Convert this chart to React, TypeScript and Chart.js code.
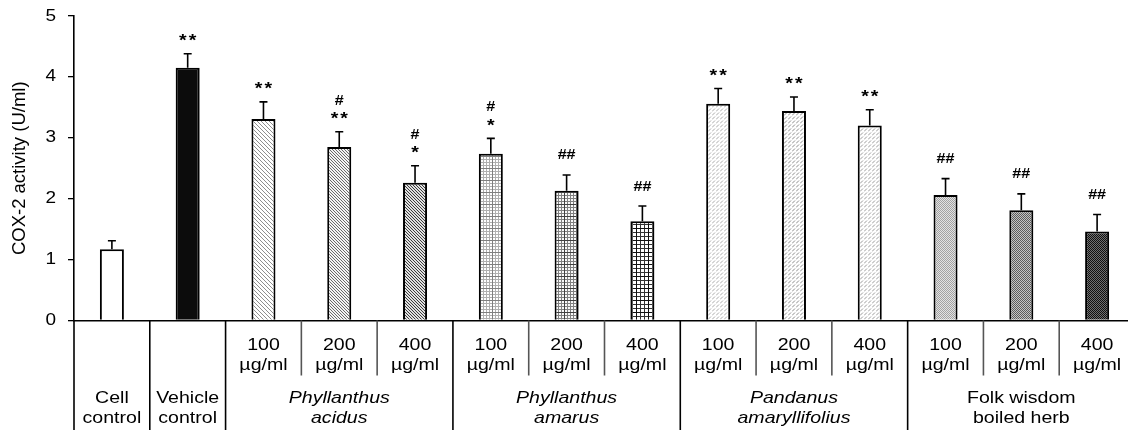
import React, { useEffect, useRef } from "react";
import { Chart, registerables } from "chart.js";

Chart.register(...registerables);

const categories = [
  "Cell control",
  "Vehicle control",
  "PA 100",
  "PA 200",
  "PA 400",
  "PAm 100",
  "PAm 200",
  "PAm 400",
  "Pan 100",
  "Pan 200",
  "Pan 400",
  "Folk 100",
  "Folk 200",
  "Folk 400",
];
const means = [1.17, 4.15, 3.31, 2.85, 2.26, 2.74, 2.13, 1.63, 3.56, 3.44, 3.2, 2.06, 1.81, 1.46];
const errors = [0.14, 0.23, 0.28, 0.25, 0.28, 0.25, 0.26, 0.25, 0.25, 0.23, 0.26, 0.27, 0.27, 0.28];
const marks: string[][] = [
  [],
  ["**"],
  ["**"],
  ["#", "**"],
  ["#", "*"],
  ["#", "*"],
  ["##"],
  ["##"],
  ["**"],
  ["**"],
  ["**"],
  ["##"],
  ["##"],
  ["##"],
];
const doseLabels = ["", "", "100", "200", "400", "100", "200", "400", "100", "200", "400", "100", "200", "400"];
const doseUnit = "µg/ml";
const groupNames: string[][] = [
  ["Cell", "control"],
  ["Vehicle", "control"],
  ["Phyllanthus", "acidus"],
  ["Phyllanthus", "amarus"],
  ["Pandanus", "amaryllifolius"],
  ["Folk wisdom", "boiled herb"],
];
const groupStart = [0, 1, 2, 5, 8, 11];
const groupEnd = [0, 1, 4, 7, 10, 13];
const groupItalic = [false, false, true, true, true, false];
const yTicks = [0, 1, 2, 3, 4, 5];
const yTitle = "COX-2 activity (U/ml)";

const FAMILY = "'Liberation Sans', Arial, Helvetica, sans-serif";

function tile(w: number, h: number, draw: (g: CanvasRenderingContext2D) => void): CanvasPattern {
  const c = document.createElement("canvas");
  c.width = w;
  c.height = h;
  const g = c.getContext("2d")!;
  draw(g);
  return g.createPattern(c, "repeat")!;
}

function diag(bg: string, fg: string, size: number, lw: number) {
  return tile(size, size, (g) => {
    g.fillStyle = bg;
    g.fillRect(0, 0, size, size);
    g.strokeStyle = fg;
    g.lineWidth = lw;
    g.beginPath();
    g.moveTo(-1, -1);
    g.lineTo(size + 1, size + 1);
    g.moveTo(-1, size - 1);
    g.lineTo(1, size + 1);
    g.moveTo(size - 1, -1);
    g.lineTo(size + 1, 1);
    g.stroke();
  });
}

function grid(bg: string, fine: string, major: string, step: number, n: number) {
  const s = step * n;
  return tile(s, s, (g) => {
    g.fillStyle = bg;
    g.fillRect(0, 0, s, s);
    g.fillStyle = fine;
    for (let k = 0; k < n; k++) {
      g.fillRect(k * step, 0, 1, s);
      g.fillRect(0, k * step, s, 1);
    }
    g.fillStyle = major;
    g.fillRect(0, 0, 1, s);
    g.fillRect(0, 0, s, 1);
  });
}

function wavy(bg: string, fg: string) {
  return tile(4, 4, (g) => {
    g.fillStyle = bg;
    g.fillRect(0, 0, 4, 4);
    g.strokeStyle = fg;
    g.lineWidth = 0.9;
    g.beginPath();
    g.moveTo(0, 3.5);
    g.lineTo(3, 0.5);
    g.stroke();
  });
}

function checker(a: string, b: string) {
  return tile(2, 2, (g) => {
    g.fillStyle = a;
    g.fillRect(0, 0, 2, 2);
    g.fillStyle = b;
    g.fillRect(0, 0, 1, 1);
    g.fillRect(1, 1, 1, 1);
  });
}

function stretchText(ctx: CanvasRenderingContext2D, text: string, x: number, y: number, font: string, sx = 1.15) {
  ctx.save();
  ctx.font = font;
  ctx.textAlign = "center";
  ctx.textBaseline = "alphabetic";
  ctx.translate(x, y);
  ctx.scale(sx, 1);
  ctx.fillText(text, 0, 0);
  ctx.restore();
}

function centeredMark(ctx: CanvasRenderingContext2D, text: string, x: number, cy: number, font: string) {
  ctx.save();
  ctx.font = font;
  ctx.textAlign = "center";
  ctx.textBaseline = "alphabetic";
  const m = ctx.measureText(text);
  const y = cy + (m.actualBoundingBoxAscent - m.actualBoundingBoxDescent) / 2;
  ctx.translate(x, y);
  ctx.scale(1.15, 1);
  ctx.fillText(text, 0, 0);
  ctx.restore();
}

const errorBarPlugin = {
  id: "errorBars",
  afterDatasetsDraw(chart: any) {
    const ctx: CanvasRenderingContext2D = chart.ctx;
    const meta = chart.getDatasetMeta(0);
    const y = chart.scales.y;
    ctx.save();
    ctx.strokeStyle = "#000";
    ctx.lineWidth = 1.6;
    meta.data.forEach((el: any, i: number) => {
      const top = y.getPixelForValue(means[i] + errors[i]);
      ctx.beginPath();
      ctx.moveTo(el.x, el.y);
      ctx.lineTo(el.x, top);
      ctx.moveTo(el.x - 4, top);
      ctx.lineTo(el.x + 4, top);
      ctx.stroke();
      const lines = marks[i];
      const n = lines.length;
      lines.forEach((t, j) => {
        const level = n - 1 - j; // 0 = closest to bar
        let cy = top - 16 - level * 16;
        if (t === "##" && n === 1) cy = top - 20.5;
        ctx.fillStyle = "#000";
        if (t.startsWith("*")) {
          const font = `bold 17px ${FAMILY}`;
          if (t.length === 2) {
            centeredMark(ctx, "*", el.x - 4.8, cy, font);
            centeredMark(ctx, "*", el.x + 4.8, cy, font);
          } else {
            centeredMark(ctx, "*", el.x, cy, font);
          }
        } else {
          centeredMark(ctx, t, el.x, cy, `bold 14px ${FAMILY}`);
        }
      });
    });
    ctx.restore();
  },
};

const labelsPlugin = {
  id: "groupLabels",
  afterDraw(chart: any) {
    const ctx: CanvasRenderingContext2D = chart.ctx;
    const xs = chart.scales.x;
    const ys = chart.scales.y;
    const area = chart.chartArea;
    const half = (xs.getPixelForValue(1) - xs.getPixelForValue(0)) / 2;
    const bottom = chart.height;
    const leftEdge = (i: number) => xs.getPixelForValue(i) - half;
    ctx.save();
    // y tick labels (stretched like the reference)
    ctx.fillStyle = "#000";
    yTicks.forEach((v) => {
      const py = ys.getPixelForValue(v);
      ctx.save();
      ctx.font = `16.5px ${FAMILY}`;
      ctx.textAlign = "right";
      ctx.textBaseline = "middle";
      ctx.translate(area.left - 18, py);
      ctx.scale(1.15, 1);
      ctx.fillText(String(v), 0, 0);
      ctx.restore();
    });
    // separators
    for (let i = 0; i <= categories.length; i++) {
      const x = i === categories.length ? xs.getPixelForValue(i - 1) + half : leftEdge(i);
      const isGroup = groupStart.includes(i) || i === categories.length;
      ctx.beginPath();
      ctx.lineWidth = 1.6;
      ctx.strokeStyle = isGroup ? "#000" : "#555";
      ctx.moveTo(x, area.bottom);
      ctx.lineTo(x, isGroup ? bottom : area.bottom + 55);
      ctx.stroke();
    }
    ctx.fillStyle = "#000";
    const font = `17px ${FAMILY}`;
    doseLabels.forEach((d, i) => {
      if (!d) return;
      const cx = xs.getPixelForValue(i);
      stretchText(ctx, d, cx, area.bottom + 29, font);
      stretchText(ctx, doseUnit, cx, area.bottom + 49, font);
    });
    groupNames.forEach((lines, g) => {
      const cx = (xs.getPixelForValue(groupStart[g]) + xs.getPixelForValue(groupEnd[g])) / 2;
      const f = groupItalic[g] ? `italic 17px ${FAMILY}` : font;
      stretchText(ctx, lines[0], cx, area.bottom + 82.5, f);
      stretchText(ctx, lines[1], cx, area.bottom + 102.5, f);
    });
    ctx.restore();
  },
};

export default function App() {
  const ref = useRef<HTMLCanvasElement | null>(null);
  useEffect(() => {
    if (!ref.current) return;
    const fills: (string | CanvasPattern)[] = [
      "#ffffff",
      "#0c0c0c",
      diag("#ffffff", "#8e8e8e", 4, 1),
      diag("#f4f4f4", "#6a6a6a", 3, 1),
      diag("#e0e0e0", "#3c3c3c", 3, 1),
      grid("#ffffff", "#b0b0b0", "#808080", 3, 4),
      grid("#f8f8f8", "#808080", "#404040", 3, 4),
      grid("#ffffff", "#333333", "#111111", 4, 3),
      wavy("#ffffff", "#a0a0a0"),
      wavy("#ffffff", "#808080"),
      wavy("#ffffff", "#909090"),
      checker("#e2e2e2", "#a2a2a2"),
      checker("#c4c4c4", "#5c5c5c"),
      checker("#707070", "#101010"),
    ];
    const chart = new Chart(ref.current, {
      type: "bar",
      data: {
        labels: categories,
        datasets: [
          {
            data: means,
            backgroundColor: fills as any,
            borderColor: "#000",
            borderWidth: 2,
            barPercentage: 0.317,
            categoryPercentage: 1,
          },
        ],
      },
      options: {
        animation: false,
        responsive: false,
        layout: { padding: { top: 16, right: 11, left: 0, bottom: 0 } },
        plugins: { legend: { display: false }, tooltip: { enabled: false } },
        scales: {
          x: {
            grid: { display: false },
            border: { display: true, color: "#000", width: 1.6 },
            ticks: { display: false },
            afterFit: (s: any) => {
              s.height = 109.5;
            },
          },
          y: {
            min: 0,
            max: 5,
            afterBuildTicks: (s: any) => {
              s.ticks = yTicks.map((v) => ({ value: v }));
            },
            ticks: { display: false },
            grid: { drawOnChartArea: false, drawTicks: true, tickLength: 6, color: "#000", lineWidth: 1.3 },
            border: { display: true, color: "#000", width: 1.6 },
            title: {
              display: true,
              text: yTitle,
              font: { family: FAMILY, size: 18.5 },
              color: "#000",
              padding: { top: 9, bottom: 0 },
            },
            afterFit: (s: any) => {
              s.width = 74;
            },
          },
        },
      },
      plugins: [errorBarPlugin, labelsPlugin],
    });
    return () => chart.destroy();
  }, []);
  return (
    <div
      style={{
        position: "fixed",
        left: 0,
        top: 0,
        width: 1128,
        height: 430,
        overflow: "hidden",
        background: "#fff",
      }}
    >
      <canvas ref={ref} width={1146} height={430} style={{ display: "block" }} />
    </div>
  );
}
